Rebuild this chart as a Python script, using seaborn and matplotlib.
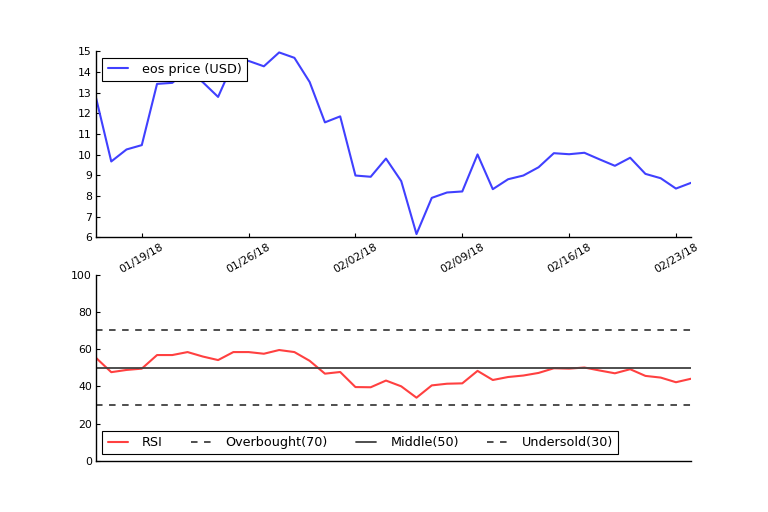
import numpy as np
import pandas as pd
import matplotlib
matplotlib.use("Agg")
import matplotlib.pyplot as plt
import matplotlib.dates as mdates
import seaborn as sns

# ---- data ----
dates = pd.date_range("2018-01-16", "2018-02-24", freq="D")
price = [12.75, 9.67, 10.25, 10.46, 13.42, 13.47, 14.1, 13.5, 12.79, 14.45,
         14.53, 14.27, 14.94, 14.68, 13.51, 11.56, 11.85, 8.99, 8.93, 9.81,
         8.72, 6.16, 7.91, 8.17, 8.22, 10.01, 8.33, 8.81, 8.99, 9.39,
         10.07, 10.02, 10.09, 9.77, 9.46, 9.85, 9.07, 8.86, 8.36, 8.64]
rsi = [55.3, 47.6, 48.8, 49.5, 56.8, 56.8, 58.4, 56.0, 54.1, 58.4,
       58.4, 57.5, 59.5, 58.4, 53.7, 46.8, 47.7, 39.6, 39.5, 43.1,
       40.0, 33.9, 40.5, 41.4, 41.6, 48.3, 43.4, 45.0, 45.8, 47.2,
       49.7, 49.5, 50.1, 48.5, 47.0, 49.2, 45.6, 44.7, 42.2, 44.1]
tick_dates = ["2018-01-19", "2018-01-26", "2018-02-02", "2018-02-09", "2018-02-16", "2018-02-23"]
levels = [70, 50, 30]
level_labels = ["Overbought(70)", "Middle(50)", "Undersold(30)"]
level_styles = ["--", "-", "--"]

df = pd.DataFrame({"date": dates, "price": price, "rsi": rsi})

sns.set_style("white")
plt.rcParams["font.family"] = ["DejaVu Sans"]
plt.rcParams["text.color"] = "black"
plt.rcParams["xtick.color"] = "black"
plt.rcParams["ytick.color"] = "black"
plt.rcParams["lines.scale_dashes"] = False
plt.rcParams["lines.dashed_pattern"] = [4.7, 4.7]

fig, (ax1, ax2) = plt.subplots(2, 1, figsize=(7.68, 5.12), dpi=100)
fig.subplots_adjust(left=0.125, right=0.9, top=0.9, bottom=0.1, hspace=0.2)

sns.lineplot(data=df, x="date", y="price", ax=ax1, color="#4040ff", lw=1.5,
             label="eos price (USD)")
ax1.set_xlim(dates[0], dates[-1])
ax1.set_ylim(6, 15)
ax1.set_yticks(range(6, 16))
ax1.set_xticks(pd.to_datetime(tick_dates))
ax1.xaxis.set_major_formatter(mdates.DateFormatter("%m/%d/%y"))
for lab in ax1.get_xticklabels():
    lab.set_rotation(30)
    lab.set_ha("center")
ax1.set_xlabel("")
ax1.set_ylabel("")

sns.lineplot(data=df, x="date", y="rsi", ax=ax2, color="#ff4040", lw=1.5, label="RSI")
for lv, lb, st in zip(levels, level_labels, level_styles):
    ax2.axhline(lv, color="#404040", ls=st, lw=1.3, label=lb)
ax2.set_xlim(dates[0], dates[-1])
ax2.set_ylim(0, 100)
ax2.set_yticks(range(0, 101, 20))
ax2.set_xticks([])
ax2.set_xlabel("")
ax2.set_ylabel("")

for ax in (ax1, ax2):
    sns.despine(ax=ax)
    for s in ("left", "bottom"):
        ax.spines[s].set_color("black")
        ax.spines[s].set_linewidth(1.0)
    ax.tick_params(direction="in", length=3, width=0.8, labelsize=7.8, colors="black",
                   bottom=True, left=True, pad=3)

leg_kw = dict(frameon=True, fancybox=False, edgecolor="black", framealpha=1,
              fontsize=9.2, handlelength=1.6, handletextpad=1.1, borderpad=0.4,
              borderaxespad=0.5)
l1 = ax1.legend(loc="upper left", **leg_kw)
l2 = ax2.legend(loc="lower left", ncol=4, columnspacing=2.2, **leg_kw)
for l in (l1, l2):
    l.get_frame().set_linewidth(0.8)
    for t in l.get_texts():
        t.set_color("black")

fig.savefig("out.png", dpi=100)
